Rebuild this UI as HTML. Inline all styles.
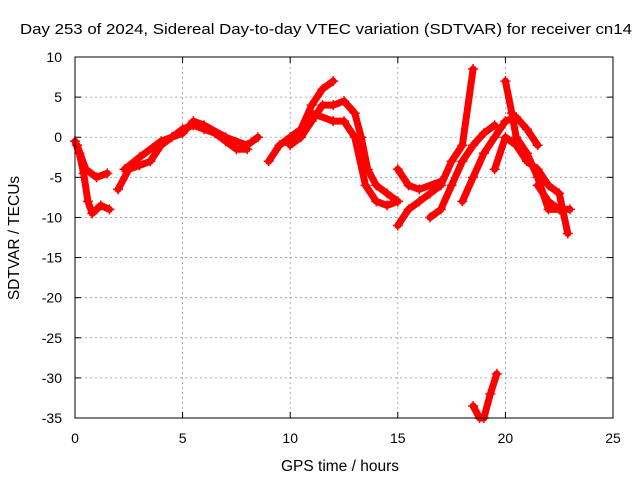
<!DOCTYPE html>
<html><head><meta charset="utf-8"><style>
body{margin:0;background:#fff}
svg{display:block;font-family:"Liberation Sans",sans-serif}
</style></head><body>
<svg id="chart" width="640" height="480">
<text x="20" y="34" font-size="15" textLength="612" lengthAdjust="spacingAndGlyphs">Day 253 of 2024, Sidereal Day-to-day VTEC variation (SDTVAR) for receiver cn14</text>
<text x="340" y="471" font-size="15.5" text-anchor="middle">GPS time / hours</text>
<text transform="translate(19,238) rotate(-90)" font-size="15.5" text-anchor="middle">SDTVAR / TECUs</text>
<g id="grid"></g><g id="marks"></g>
<rect x="75" y="57" width="538" height="361" fill="none" stroke="#000"/>
</svg>
<script>
const xTicks=[0,5,10,15,20,25];
const yTicks=[10,5,0,-5,-10,-15,-20,-25,-30,-35];
const trackA=[[0,-0.5],[0.2,-2],[0.4,-4.5],[0.6,-8],[0.8,-9.5],[1.0,-9],[1.2,-8.5],[1.6,-9]];
const trackB=[[0.1,-1],[0.5,-4],[1,-5],[1.5,-4.5]];
const trackC=[[2,-6.5],[2.5,-4],[3,-3.5],[3.5,-3],[4,-1],[4.5,0],[5,1],[5.5,1.5],[6,1],[6.5,0.5],[7,-0.5],[7.5,-1.5],[8,-1.5]];
const trackD=[[2.3,-4],[3,-2.5],[4,-0.5],[5,0.5],[5.5,2],[6,1.5],[7,0],[8,-1],[8.5,0]];
const trackE=[[9,-3],[9.5,-1],[10,0],[10.5,1],[11,4],[11.5,6],[12,7]];
const trackF=[[10,-1],[10.5,0],[11,2],[11.5,4],[12,4],[12.5,4.5],[13,3],[13.3,0],[13.6,-4],[14,-6],[14.5,-7],[15,-8]];
const trackG=[[11,3],[12,2],[12.5,2],[13,0],[13.5,-6],[14,-8],[14.5,-8.5],[15,-8]];
const trackH=[[15,-11],[15.5,-9],[16,-8],[16.5,-7],[17,-6],[17.5,-3],[18,-1],[18.5,8.5]];
const trackI=[[15,-4],[15.5,-6],[16,-6.5],[17,-5.5]];
const trackJ=[[16.5,-10],[17,-9],[17.5,-6],[18,-3],[18.5,-1],[19,0.5],[19.5,1.5]];
const trackK=[[18,-8],[18.5,-5],[19,-2],[19.5,0],[20,2],[20.5,2.5],[21,1],[21.5,-1]];
const trackL=[[20,7],[20.3,3],[20.5,0],[21,-2],[21.5,-5],[22,-9],[22.5,-9]];
const trackM=[[19.5,-4],[20,0],[20.5,-1],[21,-3],[21.5,-4],[22,-6],[22.5,-7],[22.9,-12]];
const trackN=[[18.5,-33.5],[18.8,-35],[19,-35],[19.3,-32],[19.6,-29.5]];
const trackO=[[21.5,-6],[22,-8],[22.5,-9],[23,-9]];
const tracks=[trackA,trackB,trackC,trackD,trackE,trackF,trackG,trackH,trackI,trackJ,trackK,trackL,trackM,trackN,trackO];
const X=v=>75+v*538/25, Y=v=>57+(10-v)*361/45;
const NS="http://www.w3.org/2000/svg";
const grid=document.getElementById('grid'), marks=document.getElementById('marks');
function mk(t,a,p){const e=document.createElementNS(NS,t);for(const k in a)e.setAttribute(k,a[k]);p.appendChild(e);return e;}
xTicks.forEach(t=>{
 if(t>0&&t<25){const l=mk('line',{x1:X(t),x2:X(t),y1:57,y2:418,stroke:'#999','stroke-dasharray':'2,3','stroke-width':0.8},grid);
 
 }
 const tx=mk('text',{x:X(t),y:443,'font-size':14,'text-anchor':'middle'},grid);tx.textContent=t;
 
 
 mk('line',{x1:X(t),x2:X(t),y1:418,y2:412,stroke:'#000'},grid);mk('line',{x1:X(t),x2:X(t),y1:57,y2:63,stroke:'#000'},grid);
});
yTicks.forEach(t=>{
 if(t<10&&t>-35){const l=mk('line',{x1:75,x2:613,y1:Y(t),y2:Y(t),stroke:'#999','stroke-dasharray':'2,3','stroke-width':0.8},grid);
 
 }
 const tx=mk('text',{x:62,y:Y(t)+5,'font-size':14,'text-anchor':'end'},grid);tx.textContent=t;
 
 
 mk('line',{x1:75,x2:81,y1:Y(t),y2:Y(t),stroke:'#000'},grid);mk('line',{x1:613,x2:607,y1:Y(t),y2:Y(t),stroke:'#000'},grid);
});
tracks.forEach(tr=>{
 const pl=mk('polyline',{points:tr.map(p=>X(p[0])+','+Y(p[1])).join(' '),fill:'none',stroke:'#f00','stroke-width':7,'stroke-linejoin':'round','stroke-linecap':'round'},marks);
 
 
 tr.forEach(p=>{const x=X(p[0]),y=Y(p[1]);
  const m=mk('path',{d:`M${x-5},${y}H${x+5}M${x},${y-5}V${y+5}`,stroke:'#f00','stroke-width':1.5},marks);
  
  });
});
</script>
</body></html>
